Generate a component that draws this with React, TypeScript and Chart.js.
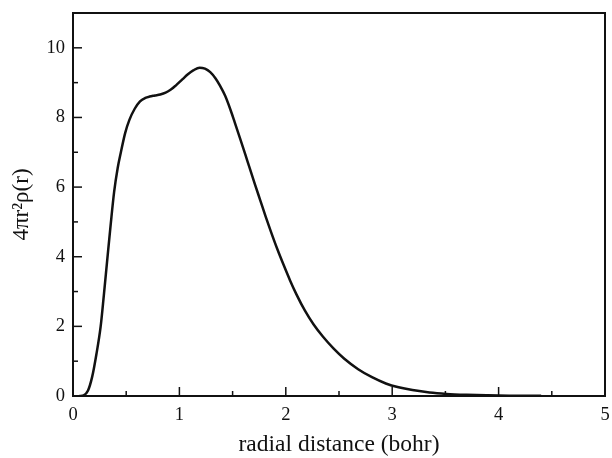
import { useEffect, useRef } from 'react'
import { Chart, registerables, type Plugin } from 'chart.js'

Chart.register(...registerables)

// radial distance (bohr) and 4πr²ρ(r)
const radius = [
  0.06, 0.1, 0.14, 0.18, 0.22, 0.26, 0.29, 0.32, 0.355, 0.386, 0.42, 0.45, 0.49, 0.53, 0.58, 0.63,
  0.68, 0.72, 0.77, 0.82, 0.87, 0.92, 0.97, 1.03, 1.08, 1.13, 1.19, 1.24, 1.29, 1.34, 1.38, 1.43,
  1.48, 1.52, 1.57, 1.62, 1.66, 1.71, 1.76, 1.81, 1.86, 1.92, 1.98, 2.04, 2.1, 2.18, 2.26, 2.35,
  2.45, 2.55, 2.68, 2.81, 2.94, 3.06, 3.19, 3.35, 3.51, 3.7, 3.9, 4.1, 4.4,
]
const density = [
  0, 0.02, 0.15, 0.55, 1.2, 2.0, 2.9, 3.85, 4.95, 5.85, 6.55, 7.0, 7.55, 7.93, 8.25, 8.46,
  8.56, 8.6, 8.63, 8.66, 8.71, 8.8, 8.93, 9.1, 9.24, 9.35, 9.43, 9.4, 9.3, 9.12, 8.92, 8.62,
  8.22, 7.86, 7.4, 6.93, 6.55, 6.08, 5.62, 5.16, 4.72, 4.22, 3.76, 3.32, 2.92, 2.45, 2.06, 1.7,
  1.36, 1.07, 0.77, 0.54, 0.36, 0.25, 0.17, 0.1, 0.06, 0.035, 0.02, 0.01, 0.005,
]

const xMajorTicks = [0, 1, 2, 3, 4, 5]
const xMinorTicks = [0.5, 1.5, 2.5, 3.5, 4.5]
const yMajorTicks = [0, 2, 4, 6, 8, 10]
const yMinorTicks = [1, 3, 5, 7, 9]

const FONT = 'Liberation Serif'
const INK = '#111'

// frame + inward tick marks on bottom and left axes
const framePlugin: Plugin<'line'> = {
  id: 'frame',
  afterDraw(chart) {
    const { ctx, chartArea: a, scales } = chart
    ctx.save()
    ctx.strokeStyle = INK
    ctx.lineWidth = 1.5
    for (const [vals, len] of [[xMajorTicks, 9], [xMinorTicks, 5]] as const) {
      for (const v of vals) {
        const px = scales.x.getPixelForValue(v)
        ctx.beginPath()
        ctx.moveTo(px, a.bottom)
        ctx.lineTo(px, a.bottom - len)
        ctx.stroke()
      }
    }
    for (const [vals, len] of [[yMajorTicks, 9], [yMinorTicks, 5]] as const) {
      for (const v of vals) {
        const py = scales.y.getPixelForValue(v)
        ctx.beginPath()
        ctx.moveTo(a.left, py)
        ctx.lineTo(a.left + len, py)
        ctx.stroke()
      }
    }
    ctx.lineWidth = 2
    ctx.strokeRect(a.left, a.top, a.right - a.left, a.bottom - a.top)
    ctx.restore()
  },
}

const noPad = (s: any) => {
  s.paddingTop = 0
  s.paddingBottom = 0
  s.paddingLeft = 0
  s.paddingRight = 0
}

export default function App() {
  const canvasRef = useRef<HTMLCanvasElement | null>(null)

  useEffect(() => {
    if (!canvasRef.current) return
    const chart = new Chart(canvasRef.current, {
      type: 'line',
      data: {
        datasets: [
          {
            data: radius.map((r, i) => ({ x: r, y: density[i] })),
            borderColor: INK,
            borderWidth: 2.5,
            pointRadius: 0,
            cubicInterpolationMode: 'monotone',
            fill: false,
          },
        ],
      },
      options: {
        animation: false,
        responsive: true,
        maintainAspectRatio: false,
        layout: { padding: { top: 13, right: 7, left: 0, bottom: 0 } },
        plugins: { legend: { display: false }, tooltip: { enabled: false } },
        scales: {
          x: {
            type: 'linear',
            min: 0,
            max: 5,
            grid: { display: false, drawTicks: false },
            border: { display: false },
            afterBuildTicks: (s) => {
              s.ticks = xMajorTicks.map((v) => ({ value: v }))
            },
            afterFit: (s) => {
              s.height = 62
              noPad(s)
            },
            ticks: { color: INK, padding: 8, font: { family: FONT, size: 18.5 } },
            title: {
              display: true,
              text: 'radial distance (bohr)',
              color: INK,
              font: { family: FONT, size: 23.5, lineHeight: 1 },
              padding: { top: 0, bottom: 1.5 },
            },
          },
          y: {
            type: 'linear',
            min: 0,
            max: 11,
            grid: { display: false, drawTicks: false },
            border: { display: false },
            afterBuildTicks: (s) => {
              s.ticks = yMajorTicks.map((v) => ({ value: v }))
            },
            afterFit: (s) => {
              s.width = 73
              noPad(s)
            },
            ticks: { color: INK, padding: 8, font: { family: FONT, size: 18.5 } },
            title: {
              display: true,
              text: '4πr²ρ(r)',
              color: INK,
              font: { family: FONT, size: 23, lineHeight: 1 },
              padding: { top: 10, bottom: 0 },
            },
          },
        },
      },
      plugins: [framePlugin],
    })
    return () => chart.destroy()
  }, [])

  return (
    <div style={{ position: 'absolute', left: 0, top: 0, width: 612, height: 458, background: '#fff' }}>
      <canvas ref={canvasRef} />
    </div>
  )
}
